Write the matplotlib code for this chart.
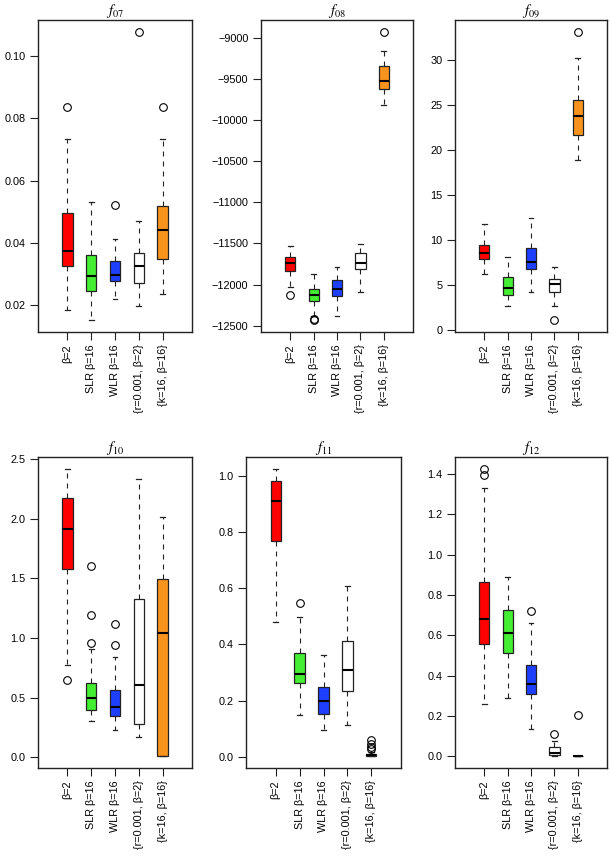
import matplotlib
matplotlib.use("Agg")
import matplotlib.pyplot as plt
from matplotlib.ticker import MultipleLocator, FuncFormatter

plt.rcParams['font.family'] = ['Liberation Sans', 'DejaVu Sans']
plt.rcParams['mathtext.fontset'] = 'stix'

categories = ["β=2", "SLR β=16", "WLR β=16", "{r=0.001, β=2}", "{k=16, β=16}"]
colors = ["#FF0000", "#44EE33", "#1F3FFF", "#FFFFFF", "#F8941E"]

titles = ["07", "08", "09", "10", "11", "12"]

# f07
f07_med = [0.0373, 0.0295, 0.0298, 0.0325, 0.0440]
f07_q1 = [0.0325, 0.0247, 0.0277, 0.0272, 0.0350]
f07_q3 = [0.0496, 0.0360, 0.0341, 0.0368, 0.0517]
f07_lo = [0.0186, 0.0152, 0.0221, 0.0197, 0.0238]
f07_hi = [0.0734, 0.0531, 0.0414, 0.0469, 0.0734]
f07_out = [[0.0834], [], [0.0523], [0.1077], [0.0836]]

# f08
f08_med = [-11740, -12128, -12055, -11732, -9524]
f08_q1 = [-11834, -12197, -12144, -11805, -9625]
f08_q3 = [-11664, -12055, -11943, -11619, -9351]
f08_lo = [-12023, -12380, -12379, -12088, -9815]
f08_hi = [-11531, -11874, -11785, -11502, -9161]
f08_out = [[-12125], [-12420, -12435], [], [], [-8927]]

# f09
f09_med = [8.52, 4.63, 7.59, 5.07, 23.78]
f09_q1 = [7.85, 3.89, 6.74, 4.19, 21.67]
f09_q3 = [9.44, 5.85, 9.07, 5.63, 25.56]
f09_lo = [6.22, 2.59, 4.19, 2.59, 18.89]
f09_hi = [11.78, 8.04, 12.41, 6.93, 30.19]
f09_out = [[], [], [], [1.04], [33.15]]

# f10
f10_med = [1.91, 0.496, 0.423, 0.607, 1.044]
f10_q1 = [1.576, 0.40, 0.344, 0.28, 0.014]
f10_q3 = [2.17, 0.624, 0.563, 1.33, 1.498]
f10_lo = [0.773, 0.302, 0.232, 0.168, 0.008]
f10_hi = [2.42, 0.91, 0.84, 2.33, 2.01]
f10_out = [[0.652], [1.604, 1.19, 0.96], [1.114, 0.938], [], []]

# f11
f11_med = [0.912, 0.295, 0.198, 0.309, 0.006]
f11_q1 = [0.768, 0.261, 0.152, 0.234, 0.003]
f11_q3 = [0.982, 0.371, 0.247, 0.412, 0.010]
f11_lo = [0.481, 0.148, 0.095, 0.113, 0.0005]
f11_hi = [1.027, 0.499, 0.362, 0.609, 0.016]
f11_out = [[], [0.546], [], [], [0.026, 0.036, 0.046, 0.058]]

# f12
f12_med = [0.684, 0.612, 0.361, 0.018, 0.0]
f12_q1 = [0.558, 0.513, 0.312, 0.008, 0.0]
f12_q3 = [0.867, 0.725, 0.455, 0.049, 0.0]
f12_lo = [0.258, 0.29, 0.135, 0.003, 0.0]
f12_hi = [1.329, 0.891, 0.661, 0.077, 0.0]
f12_out = [[1.395, 1.428], [], [0.719], [0.112], [0.205]]

panels = [
    (f07_med, f07_q1, f07_q3, f07_lo, f07_hi, f07_out, 0.02, "%.2f"),
    (f08_med, f08_q1, f08_q3, f08_lo, f08_hi, f08_out, 500, "%d"),
    (f09_med, f09_q1, f09_q3, f09_lo, f09_hi, f09_out, 5, "%d"),
    (f10_med, f10_q1, f10_q3, f10_lo, f10_hi, f10_out, 0.5, "%.1f"),
    (f11_med, f11_q1, f11_q3, f11_lo, f11_hi, f11_out, 0.2, "%.1f"),
    (f12_med, f12_q1, f12_q3, f12_lo, f12_hi, f12_out, 0.2, "%.1f"),
]

W, H = 610, 857
fig = plt.figure(figsize=(W / 100, H / 100), dpi=100)

# axes pixel boxes: (left, right, top, bottom)
boxes = [
    (38, 192, 20, 332), (261, 413, 20, 332), (455, 607, 20, 332),
    (38, 192, 457, 768), (246, 401, 457, 768), (455, 607, 457, 768),
]


def make_fmt(fmt):
    return FuncFormatter(lambda v, p: (fmt % v).replace("-", "\u2212"))


for i, (p, b) in enumerate(zip(panels, boxes)):
    med, q1, q3, lo, hi, out, step, fmt = p
    l, r, t, bt = b
    ax = fig.add_axes([l / W, 1 - bt / H, (r - l) / W, (bt - t) / H])
    stats = []
    for k in range(5):
        stats.append(dict(med=med[k], q1=q1[k], q3=q3[k], whislo=lo[k],
                          whishi=hi[k], fliers=out[k]))
    pos = list(range(1, 6))
    bp = ax.bxp(stats, positions=pos, widths=0.43, patch_artist=True,
                capwidths=0.21, showfliers=True,
                boxprops=dict(edgecolor="#222222", linewidth=0.9),
                medianprops=dict(color="black", linewidth=1.5),
                whiskerprops=dict(color="#222222", linewidth=0.8, linestyle=(0, (4.5, 4.5))),
                capprops=dict(color="#222222", linewidth=0.9),
                flierprops=dict(marker="o", markersize=5.5, markerfacecolor="none",
                                markeredgecolor="black", markeredgewidth=0.8))
    for patch, c in zip(bp["boxes"], colors):
        patch.set_facecolor(c)
    allv = lo + hi + [v for o in out for v in o]
    vmin, vmax = min(allv), max(allv)
    pad = 0.04 * (vmax - vmin)
    ax.set_ylim(vmin - pad, vmax + pad)
    ax.set_xlim(-0.24, 6.24)
    ax.yaxis.set_major_locator(MultipleLocator(step))
    ax.yaxis.set_major_formatter(make_fmt(fmt))
    ax.set_xticks(pos)
    ax.set_xticklabels(categories, rotation=90)
    ax.tick_params(axis="both", length=6, width=0.8, labelsize=7.8, pad=3, color="#222222")
    for s in ax.spines.values():
        s.set_linewidth(1.0)
        s.set_color("#222222")
    ax.set_title(r"$f_{%s}$" % titles[i], fontsize=10.5, pad=3)

fig.savefig("out.png", dpi=100)
